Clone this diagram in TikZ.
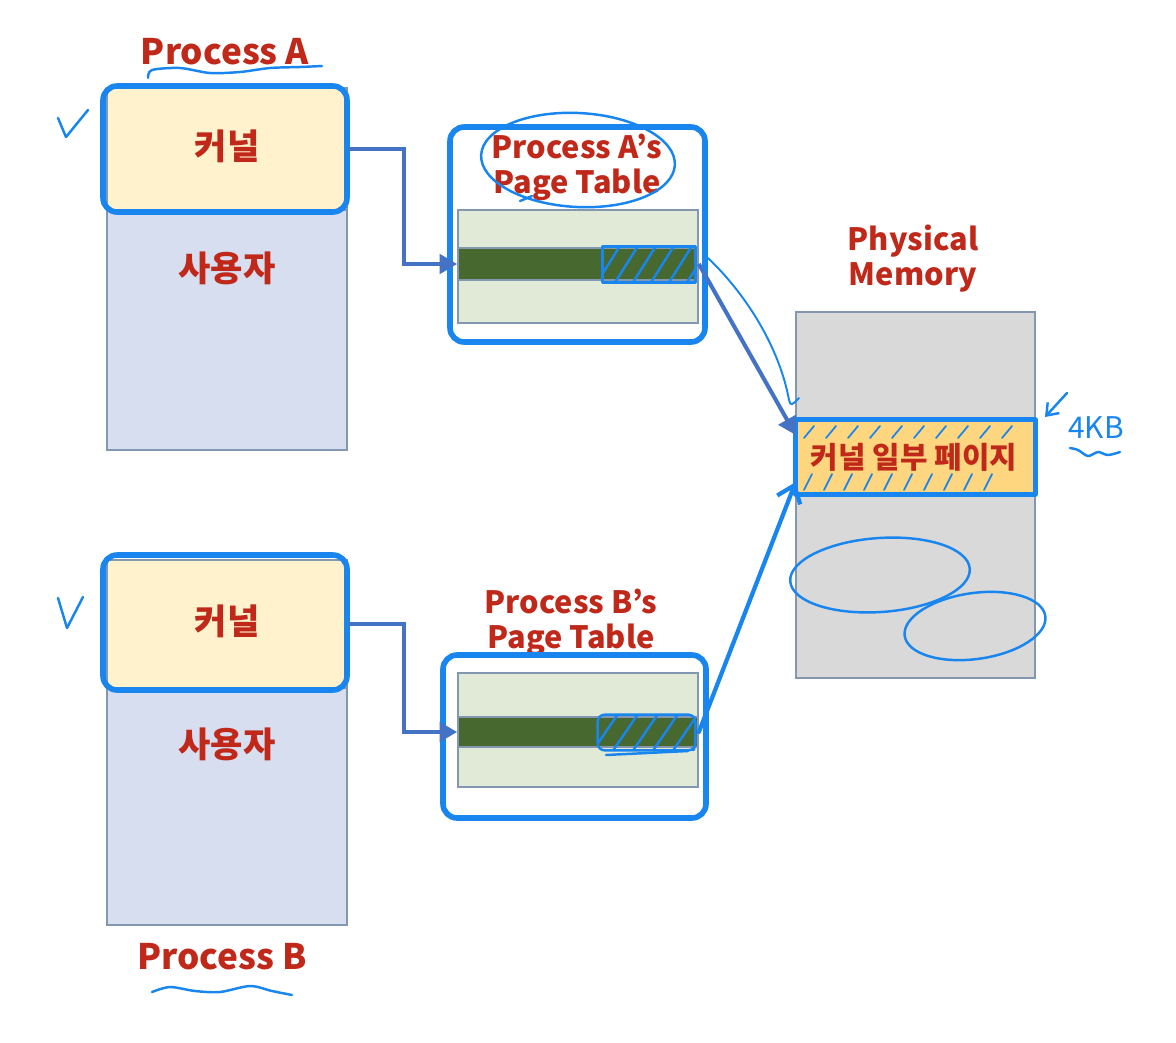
\documentclass[tikz,border=0pt]{standalone}
\usepackage{fontspec}
\setmainfont{Noto Sans CJK KR}
\usetikzlibrary{arrows.meta}
\definecolor{txtred}{RGB}{192,40,26}
\definecolor{penblue}{RGB}{24,134,238}
\definecolor{arrblue}{RGB}{68,114,196}
\definecolor{kerncol}{RGB}{255,242,204}
\definecolor{usercol}{RGB}{214,222,240}
\definecolor{edgecol}{RGB}{132,151,176}
\definecolor{tabcol}{RGB}{224,234,214}
\definecolor{rowcol}{RGB}{71,104,46}
\definecolor{memcol}{RGB}{217,217,217}
\definecolor{pagecol}{RGB}{255,214,128}

\begin{document}
\begin{tikzpicture}
  [x=0.02cm,y=-0.02cm,
   box/.style={draw=edgecol,line width=1pt,inner sep=0,minimum width=4.8cm},
   hl/.style={draw=penblue,line width=3.2pt,rounded corners=8pt,inner sep=0},
   ttl/.style={text=txtred,inner sep=0,align=center,
     font=\bfseries\fontsize{20}{20}\selectfont},
   small/.style={font=\bfseries\fontsize{17.5}{20}\selectfont},
   ink/.style={draw=penblue,line width=1.4pt,line cap=round,line join=round},
   arr/.style={draw=arrblue,line width=2.3pt,-{Triangle[length=10pt,width=11pt]}}]
  \useasboundingbox[fill=white] (0,0) rectangle (1176,1042);

  % process A
  \node[box,fill=usercol,minimum height=4.8cm] (userA) at (227,330) {};
  \node[box,fill=kerncol,minimum height=2.44cm] (kernA) at (227,149) {};
  \node[hl,minimum width=4.88cm,minimum height=2.52cm] (hlA) at (225,149) {};
  \node[ttl] (kA) at (227,146) {커널};
  \node[ttl] (uA) at (227,268) {사용자};
  \node[ttl] (pA) at (225,52) {Process A};

  % process B
  \node[box,fill=usercol,minimum height=4.74cm] (userB) at (227,806.5) {};
  \node[box,fill=kerncol,minimum height=2.56cm] (kernB) at (227,624) {};
  \node[hl,minimum width=4.88cm,minimum height=2.7cm] (hlB) at (225,622.5) {};
  \node[ttl] (kB) at (227,621) {커널};
  \node[ttl] (uB) at (227,744) {사용자};
  \node[ttl] (pB) at (222,957) {Process B};

  % page table A
  \node[hl,fill=white,minimum width=5.1cm,minimum height=4.3cm] (frmA) at (577.5,234.5) {};
  \node[box,fill=tabcol,minimum height=2.26cm] (tabA) at (578,266.5) {};
  \node[box,fill=rowcol,minimum height=0.64cm] (rowA) at (578,264) {};
  \node[ttl,small] (tA) at (577,167) {Process A’s\\Page Table};
  \node[inner sep=0,minimum width=1.84cm,minimum height=0.7cm] (hatA) at (649,264.5) {};
  \begin{scope}
    \clip (hatA.south west) rectangle (hatA.north east);
    \foreach \x in {596,614,...,690}
      \draw[ink] (\x,284) -- (\x+24,246);
  \end{scope}
  \draw[ink] (hatA.south west) rectangle (hatA.north east);

  % page table B
  \node[ttl,small] (tB) at (571,622) {Process B’s\\Page Table};
  \node[hl,fill=white,minimum width=5.26cm,minimum height=3.26cm] (frmB) at (574.5,736.5) {};
  \node[box,fill=tabcol,minimum height=2.28cm] (tabB) at (578,730) {};
  \node[box,fill=rowcol,minimum height=0.6cm] (rowB) at (578,732) {};
  \node[inner sep=0,minimum width=1.94cm,minimum height=0.7cm] (hatB) at (646.5,732.5) {};
  \begin{scope}
    \clip (hatB.south west) rectangle (hatB.north east);
    \foreach \x in {592,612,...,692}
      \draw[ink] (\x,752) -- (\x+26,714);
  \end{scope}
  \draw[ink,rounded corners=4pt] (hatB.south west) rectangle (hatB.north east);
  \draw[ink] (606,755) -- (688,751);

  % physical memory
  \node[ttl,small] (tM) at (913,259) {Physical\\Memory};
  \node[box,fill=memcol,minimum width=4.78cm,minimum height=7.32cm] (mem) at (915.5,495) {};
  \node[inner sep=0,fill=pagecol,minimum width=4.78cm,minimum height=1.48cm] (kpg) at (915.5,457) {};
  \foreach \x in {804,826,...,1004}
    \draw[ink,line width=1pt] (\x,438) -- (\x+10,426);
  \foreach \x in {804,824,...,990}
    \draw[ink,line width=1pt] (\x,490) -- (\x+8,474);
  \draw[ink,line width=2.6pt] (kpg.south west) rectangle (kpg.north east);
  \node[ttl,font=\bfseries\fontsize{17}{17}\selectfont] (kpT) at (914,457) {커널 일부 페이지};

  % connectors
  \draw[arr] (kernA.east) -- ++(56,0) |- (rowA.west);
  \draw[arr] (kernB.east) -- ++(56,0) |- (rowB.west);
  \draw[arr] (rowA.east) -- ([yshift=0.44cm]kpg.west);
  \draw[ink,line width=2.4pt,-{Straight Barb[length=9pt,width=14pt]}]
    (rowB.east) -- ([yshift=-0.5cm]kpg.west);

  % pen marks
  \draw[ink,line width=1.1pt] (708,258) .. controls (748,296) and (780,350) .. (789,400)
    .. controls (791,406) .. (799,398);
  \draw[ink,rotate around={-3:(578,160)}] (578,160) ellipse [x radius=1.94cm,y radius=0.94cm];
  \draw[ink] (520,201) -- (532,196);
  \draw[ink] (58,118) -- (66,137) -- (88,110);
  \draw[ink] (58,598) -- (67,628) -- (83,597);
  \draw[ink] plot[smooth] coordinates
    {(148,78) (152,70) (180,68) (210,73) (240,72) (270,68) (300,67) (322,66)};
  \draw[ink] plot[smooth] coordinates
    {(152,992) (170,987) (195,991) (220,992) (250,986) (272,991) (292,995)};
  \draw[ink,rotate around={4:(880,575)}] (880,575) ellipse [x radius=1.8cm,y radius=0.74cm];
  \draw[ink,rotate around={8:(975,626)}] (975,626) ellipse [x radius=1.42cm,y radius=0.66cm];
  \draw[ink,-{Straight Barb[length=6pt,width=9pt]}] (1067,393) -- (1045,417);
  \node[text=penblue,inner sep=0,font=\fontsize{17}{17}\selectfont] (kb) at (1096,428) {4KB};
  \draw[ink] plot[smooth] coordinates
    {(1070,448) (1078,450) (1088,456) (1098,452) (1108,455) (1120,452)};
\end{tikzpicture}
\end{document}
